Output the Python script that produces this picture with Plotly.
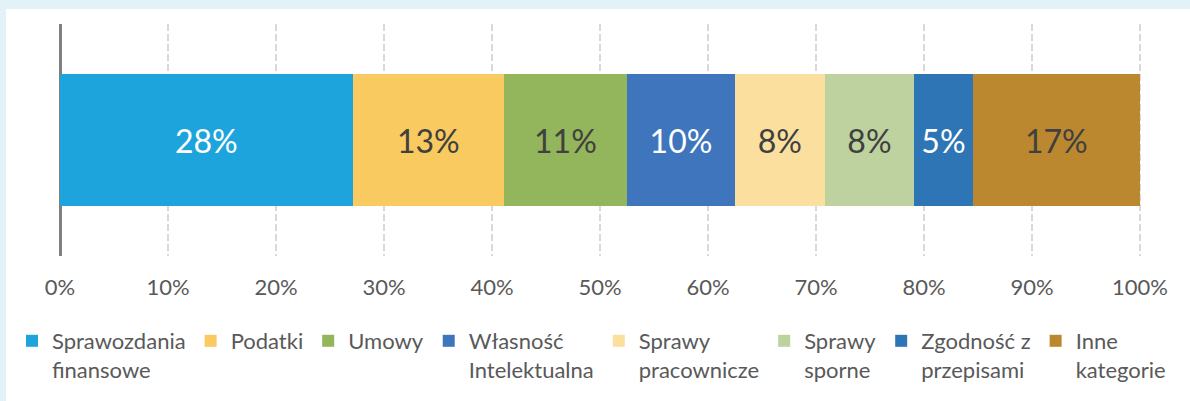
import plotly.graph_objects as go

categories = ["Sprawozdania<br>finansowe", "Podatki", "Umowy", "Własność<br>Intelektualna",
              "Sprawy<br>pracownicze", "Sprawy<br>sporne", "Zgodność z<br>przepisami", "Inne<br>kategorie"]
values = [27.1, 14.0, 11.4, 10.0, 8.3, 8.3, 5.4, 15.5]
labels = ["28%", "13%", "11%", "10%", "8%", "8%", "5%", "17%"]
colors = ["#1EA4DC", "#F9CA5F", "#93B55B", "#3E75BD", "#FBDF9E", "#BDD29E", "#2E75B5", "#BB882F"]
label_colors = ["#FFFFFF", "#404040", "#404040", "#FFFFFF", "#404040", "#404040", "#FFFFFF", "#404040"]
tick_vals = list(range(0, 101, 10))
tick_text = [f"{v}%" for v in tick_vals]

W, H = 1190, 401
ML, MR, MT, MB = 60, 10, 24, 145
X_END_PX = 1140          # pixel where 100% sits
FONT = "Lato"

pw = W - ML - MR
ph = H - MT - MB
x_max = 100 * pw / (X_END_PX - ML)   # extend range so 100% lands at X_END_PX

fig = go.Figure()
for cat, val, lab, col, lcol in zip(categories, values, labels, colors, label_colors):
    fig.add_trace(go.Bar(
        x=[val], y=[0], orientation="h", name=cat, width=0.573,
        marker=dict(color=col, line=dict(width=0)),
        text=[lab], textposition="inside", insidetextanchor="middle",
        textfont=dict(family=FONT, size=32, color=lcol),
        hoverinfo="name+x",
    ))

# light blue frame bands (top and left)
fig.add_shape(type="rect", xref="paper", yref="paper",
              x0=-ML / pw, x1=(W - ML) / pw, y0=1 + (MT - 9) / ph, y1=1 + MT / ph,
              fillcolor="#E3F2F9", line=dict(width=0), layer="below")
fig.add_shape(type="rect", xref="paper", yref="paper",
              x0=-ML / pw, x1=-(ML - 6) / pw, y0=-MB / ph, y1=1 + MT / ph,
              fillcolor="#E3F2F9", line=dict(width=0), layer="below")

fig.update_layout(
    width=W, height=H,
    margin=dict(l=ML, r=MR, t=MT, b=MB),
    paper_bgcolor="white", plot_bgcolor="white",
    barmode="stack",
    font=dict(family=FONT, color="#595959"),
    xaxis=dict(range=[0, x_max], tickvals=tick_vals, ticktext=tick_text,
               showgrid=True, gridcolor="#D9D9D9", gridwidth=2, griddash="7px,3px",
               zeroline=True, zerolinecolor="#808080", zerolinewidth=3,
               showline=False, ticks="", ticklabelstandoff=16,
               tickfont=dict(family=FONT, size=22, color="#595959"), fixedrange=True),
    yaxis=dict(range=[-0.5, 0.5], showticklabels=False, showgrid=False, zeroline=False,
               showline=False, fixedrange=True),
    showlegend=True,
    legend=dict(orientation="h", xref="paper", yref="paper",
                x=(12 - ML) / pw, y=-(320 - (H - MB)) / ph, xanchor="left", yanchor="top",
                valign="top", traceorder="normal", itemclick=False,
                font=dict(family=FONT, size=22, color="#595959"),
                tracegroupgap=0, itemwidth=30),
)

fig.write_html("out.html", config={"displayModeBar": False},
               post_script="document.body.style.margin='0';document.body.style.overflow='hidden';")
